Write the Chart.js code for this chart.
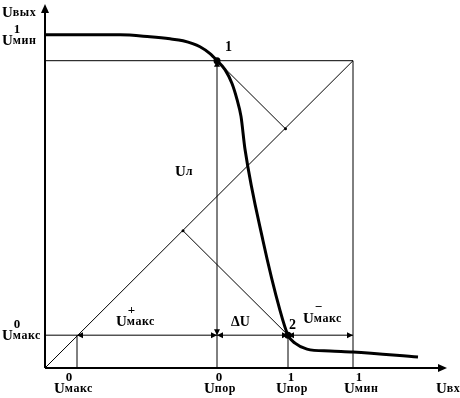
<!DOCTYPE html>
<html>
<head>
<meta charset="utf-8">
<script src="https://cdn.jsdelivr.net/npm/chart.js@4"></script>
<style>
  html, body { margin: 0; padding: 0; background: #fff; }
  #wrap { width: 460px; height: 398px; }
</style>
</head>
<body>
<div id="wrap"><canvas id="chart"></canvas></div>
<script>
// Transfer characteristic of the logic element (input voltage -> output voltage)
const curveX = [0, 0.75, 1.05, 1.25, 1.38, 1.55, 1.65, 1.72, 1.80, 1.87, 1.92, 1.96, 2.00, 2.18, 2.35, 2.43, 2.50, 2.62, 2.85, 3.08, 3.73];
const curveY = [3.35, 3.35, 3.33, 3.31, 3.29, 3.23, 3.16, 3.09, 3.00, 2.86, 2.70, 2.53, 2.20, 1.28, 0.58, 0.33, 0.25, 0.19, 0.17, 0.16, 0.11];

// Levels on the axes
const uMaxLow = 0.32;   // U0макс on the input axis
const uThrLow = 1.72;   // U0пор
const uThrHigh = 2.43;  // U1пор
const uMinHigh = 3.08;  // U1мин on the input axis
const outHigh = 3.09;   // U1мин on the output axis
const outLow = 0.33;    // U0макс on the output axis
const axisMaxX = 4.02;
const axisMaxY = 3.66;

// Tick labels under the input axis
const tickValues = [uMaxLow, uThrLow, uThrHigh, uMinHigh];
const tickSup = ['0', '0', '1', '1'];
const tickSub = ['макс', 'пор', 'пор', 'мин'];

// Feet of the perpendiculars from points 1 and 2 on the diagonal
const foot1 = (uThrLow + outHigh) / 2;
const foot2 = (uThrHigh + outLow) / 2;

function seg(x1, y1, x2, y2, w) {
    return {
        data: [{ x: x1, y: y1 }, { x: x2, y: y2 }],
        showLine: true, borderColor: '#000', borderWidth: w || 1,
        pointRadius: 0, clip: false
    };
}

const datasets = [
    seg(0, 0, axisMaxX - 0.06, 0, 2),           // input axis
    seg(0, 0, 0, axisMaxY - 0.06, 2),           // output axis
    seg(0, outHigh, uMinHigh, outHigh),         // top of the square
    seg(uMinHigh, 0, uMinHigh, outHigh),        // right of the square
    seg(0, 0, uMinHigh, outHigh),               // diagonal
    seg(0, outLow, uMinHigh, outLow),           // U0макс level
    seg(uMaxLow, 0, uMaxLow, outLow),
    seg(uThrLow, 0, uThrLow, outHigh),
    seg(uThrHigh, 0, uThrHigh, outLow),
    seg(uThrLow, outHigh, foot1, foot1),        // perpendicular from point 1
    seg(uThrHigh, outLow, foot2, foot2),        // perpendicular from point 2
    {
        data: [{ x: foot1, y: foot1 }, { x: foot2, y: foot2 }],
        showLine: false, pointRadius: 1.5, pointBackgroundColor: '#000', pointBorderWidth: 0, clip: false
    },
    {
        data: curveX.map((x, i) => ({ x: x, y: curveY[i] })),
        showLine: true, borderColor: '#000', borderWidth: 3,
        cubicInterpolationMode: 'monotone', pointRadius: 0, clip: false
    },
    {
        data: [{ x: uThrLow, y: outHigh }, { x: uThrHigh, y: outLow }],
        showLine: false, pointRadius: 3.5, pointBackgroundColor: '#000', pointBorderWidth: 0, clip: false
    }
];

// arrow head with its tip at (x, y) pointing in direction (dx, dy)
function arrow(ctx, x, y, dx, dy, len, half) {
    ctx.beginPath();
    ctx.moveTo(x, y);
    ctx.lineTo(x - dx * len - dy * half, y - dy * len + dx * half);
    ctx.lineTo(x - dx * len + dy * half, y - dy * len - dx * half);
    ctx.closePath();
    ctx.fill();
}

const serif = '"Liberation Serif", "Times New Roman", serif';

// "U" with a superscript and a subscript stacked after it
function label(ctx, x, y, sup, sub) {
    ctx.font = 'bold 15px ' + serif;
    ctx.letterSpacing = '0px';
    ctx.fillText('U', x, y);
    const w = ctx.measureText('U').width;
    ctx.font = 'bold 12px ' + serif;
    ctx.letterSpacing = '0.5px';
    if (sub) ctx.fillText(sub, x + w, y - 1);
    ctx.letterSpacing = '0px';
    ctx.font = 'bold 13px ' + serif;
    if (sup) ctx.fillText(sup, x + w + 1, y - 12);
}

const decor = {
    id: 'decor',
    afterDatasetsDraw(chart) {
        const ctx = chart.ctx;
        const sx = chart.scales.x, sy = chart.scales.y;
        const px = v => sx.getPixelForValue(v);
        const py = v => sy.getPixelForValue(v);
        ctx.save();
        ctx.fillStyle = '#000';
        ctx.textBaseline = 'alphabetic';

        // axis arrows
        arrow(ctx, px(axisMaxX), py(0), 1, 0, 9, 4);
        arrow(ctx, px(0), py(axisMaxY), 0, -1, 9, 4);

        // dimension arrows on the U0макс level
        const yl = py(outLow);
        arrow(ctx, px(uMaxLow), yl, -1, 0, 6, 3);
        arrow(ctx, px(uThrLow), yl, 1, 0, 6, 3);
        arrow(ctx, px(uThrLow), yl, -1, 0, 6, 3);
        arrow(ctx, px(uThrHigh), yl, 1, 0, 6, 3);
        arrow(ctx, px(uThrHigh), yl, -1, 0, 6, 3);
        arrow(ctx, px(uMinHigh), yl, 1, 0, 6, 3);
        // Uл dimension on the U0пор line
        arrow(ctx, px(uThrLow), py(outHigh), 0, -1, 6, 3);
        arrow(ctx, px(uThrLow), yl, 0, 1, 6, 3);

        // labels on the output axis
        label(ctx, 2, 17, null, 'вых');
        label(ctx, 2, 45, '1', 'мин');
        label(ctx, 2, 340, '0', 'макс');

        // labels under the input axis
        const offs = [-23, -13, -12, -9];
        tickValues.forEach((v, i) => {
            label(ctx, px(v) + offs[i], 393, tickSup[i], tickSub[i]);
        });
        label(ctx, 436, 393, null, 'вх');

        // labels in the plot
        ctx.font = 'bold 14px ' + serif;
        ctx.fillText('1', px(uThrLow) + 8, py(outHigh) - 10);
        ctx.fillText('2', px(uThrHigh) + 1, py(outLow) - 6);
        ctx.fillText('\u0394U', px(uThrLow) + 14, yl - 9);
        label(ctx, 116, 326, '+', 'макс');
        label(ctx, 303, 323, '\u2212', 'макс');
        label(ctx, 175, 176, null, 'л');
        ctx.restore();
    }
};

new Chart(document.getElementById('chart'), {
    type: 'scatter',
    data: { datasets: datasets },
    options: {
        responsive: true,
        maintainAspectRatio: false,
        animation: false,
        events: [],
        layout: { padding: { left: 45, right: 13, top: 2, bottom: 30 } },
        plugins: { legend: { display: false }, tooltip: { enabled: false } },
        scales: {
            x: { type: 'linear', min: 0, max: axisMaxX, display: false },
            y: { type: 'linear', min: 0, max: axisMaxY, display: false }
        }
    },
    plugins: [decor]
});
</script>
</body>
</html>
